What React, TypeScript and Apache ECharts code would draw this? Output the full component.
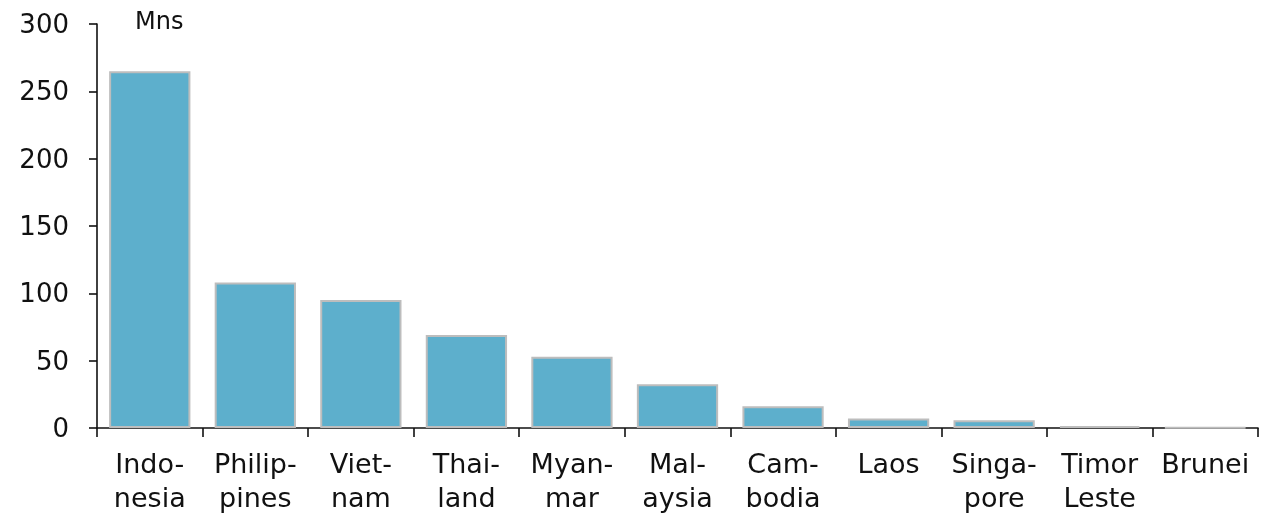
import React, { useEffect, useRef } from "react";
import * as echarts from "echarts";

const categories = [
  "Indo-\nnesia",
  "Philip-\npines",
  "Viet-\nnam",
  "Thai-\nland",
  "Myan-\nmar",
  "Mal-\naysia",
  "Cam-\nbodia",
  "Laos",
  "Singa-\npore",
  "Timor\nLeste",
  "Brunei",
];
const population = [265, 108, 95, 69, 53, 32.5, 16.2, 7, 5.8, 1.3, 0.4];
const unitLabel = "Mns";

export default function App() {
  const ref = useRef<HTMLDivElement>(null);
  useEffect(() => {
    const chart = echarts.init(ref.current!, null, { renderer: "svg" });
    const font = "'DejaVu Sans', sans-serif";
    chart.setOption({
      animation: false,
      grid: { left: 97, right: 3, top: 24, bottom: 90, containLabel: false },
      graphic: [
        {
          type: "text",
          left: 135,
          top: 9,
          style: { text: unitLabel, fontSize: 24, fontFamily: font, fill: "#111" },
        },
      ],
      xAxis: {
        type: "category",
        data: categories,
        axisLine: { lineStyle: { color: "#111", width: 1.6 } },
        axisTick: { show: true, length: 9, lineStyle: { color: "#111", width: 1.6 } },
        axisLabel: {
          color: "#111",
          fontSize: 27,
          fontFamily: font,
          lineHeight: 34,
          margin: 18,
          interval: 0,
        },
      },
      yAxis: {
        type: "value",
        min: 0,
        max: 300,
        interval: 50,
        splitLine: { show: false },
        axisLine: { show: true, lineStyle: { color: "#111", width: 1.6 } },
        axisTick: { show: true, length: 8, lineStyle: { color: "#111", width: 1.6 } },
        axisLabel: { color: "#111", fontSize: 26, fontFamily: font, margin: 28 },
      },
      series: [
        {
          type: "bar",
          data: population,
          barCategoryGap: "23%",
          itemStyle: { color: "#5DAFCC", borderColor: "#BDBDBD", borderWidth: 2 },
        },
      ],
    });
    return () => chart.dispose();
  }, []);
  return (
    <div
      ref={ref}
      style={{ position: "fixed", left: 0, top: 0, width: 1261, height: 518 }}
    />
  );
}
